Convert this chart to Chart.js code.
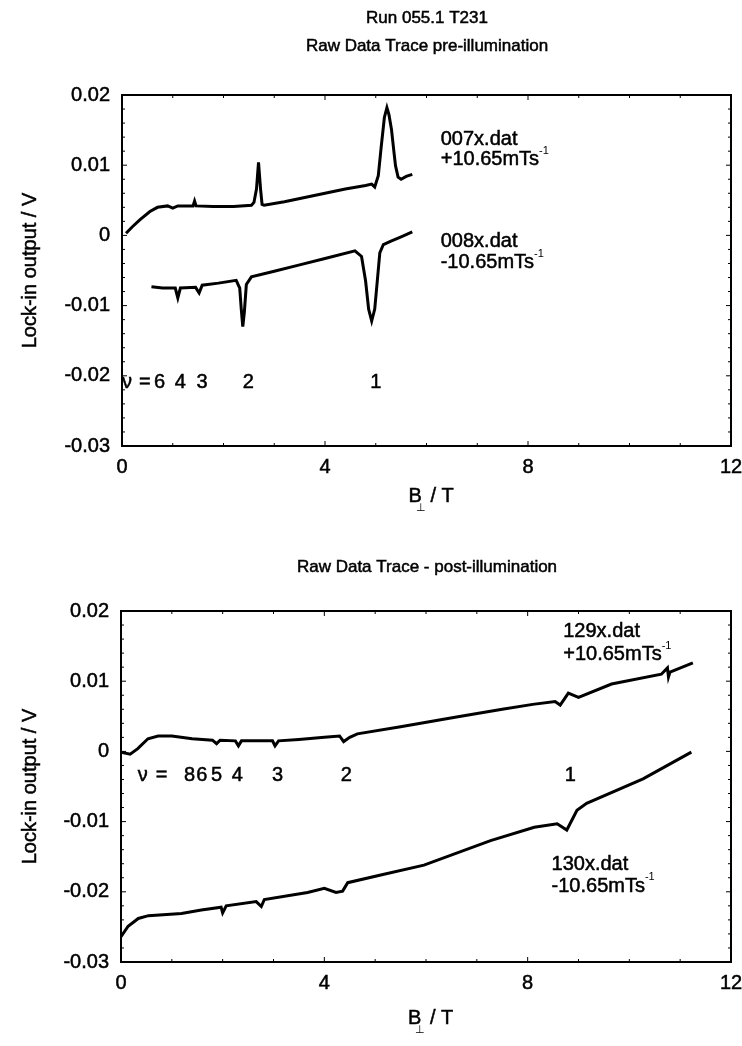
<!DOCTYPE html>
<html>
<head>
<meta charset="utf-8">
<script src="https://cdn.jsdelivr.net/npm/chart.js@4/dist/chart.umd.min.js"></script>
<style>
  body { margin: 0; background: #fff; overflow: hidden; }
  .wrap { position: absolute; left: 0; width: 742px; height: 523px; }
</style>
</head>
<body>
<div class="wrap" style="top:0"><canvas id="preChart" width="742" height="523"></canvas></div>
<div class="wrap" style="top:523px"><canvas id="postChart" width="742" height="523"></canvas></div>
<script>
// B field (T) and lock-in output (V)
const b007 = [0.08, 0.2, 0.35, 0.55, 0.7, 0.9, 1.0, 1.1, 1.4, 1.43, 1.46, 1.8, 2.2, 2.55, 2.6, 2.65, 2.69, 2.73, 2.76, 2.8, 3.2, 3.6, 4.0, 4.4, 4.8, 4.92, 4.98, 5.05, 5.11, 5.17, 5.22, 5.26, 5.31, 5.36, 5.39, 5.44, 5.5, 5.6, 5.72];
const v007 = [0.0003, 0.0012, 0.0022, 0.0034, 0.0040, 0.0042, 0.0039, 0.0042, 0.0042, 0.0049, 0.0042, 0.0041, 0.0041, 0.0043, 0.0047, 0.0066, 0.0104, 0.0066, 0.0044, 0.0043, 0.0048, 0.0054, 0.0060, 0.0066, 0.0071, 0.0073, 0.0069, 0.0085, 0.0128, 0.0168, 0.0182, 0.0172, 0.0151, 0.0118, 0.0099, 0.0083, 0.0080, 0.0084, 0.0087];

const b008 = [0.58, 0.8, 1.05, 1.1, 1.15, 1.45, 1.52, 1.58, 1.9, 2.25, 2.32, 2.35, 2.38, 2.41, 2.45, 2.55, 3.0, 3.5, 4.0, 4.59, 4.72, 4.8, 4.86, 4.92, 4.98, 5.03, 5.08, 5.15, 5.3, 5.5, 5.72];
const v008 = [-0.0073, -0.0075, -0.0075, -0.0089, -0.0075, -0.0074, -0.0082, -0.0071, -0.0068, -0.0064, -0.0075, -0.0105, -0.0130, -0.0110, -0.0070, -0.0059, -0.0051, -0.0042, -0.0033, -0.0022, -0.0030, -0.0065, -0.0105, -0.0122, -0.0105, -0.0065, -0.0025, -0.0013, -0.0008, -0.0002, 0.0005];

const b129 = [0.0, 0.18, 0.33, 0.53, 0.73, 1.0, 1.4, 1.8, 1.88, 1.95, 2.25, 2.31, 2.37, 2.7, 2.98, 3.03, 3.1, 3.5, 4.0, 4.3, 4.38, 4.5, 4.65, 5.5, 6.6, 7.5, 8.1, 8.54, 8.64, 8.8, 9.0, 9.65, 10.63, 10.75, 10.77, 10.8, 11.25];
const v129 = [-0.0001, -0.0004, 0.0004, 0.0018, 0.0022, 0.0022, 0.0018, 0.0016, 0.0011, 0.0016, 0.0015, 0.0008, 0.0015, 0.0015, 0.0015, 0.0008, 0.0015, 0.0017, 0.0020, 0.0022, 0.0014, 0.0020, 0.0025, 0.0035, 0.0049, 0.0060, 0.0067, 0.0071, 0.0066, 0.0083, 0.0077, 0.0096, 0.0110, 0.0119, 0.0106, 0.0113, 0.0126];

const b130 = [0.0, 0.14, 0.34, 0.54, 1.19, 1.58, 1.97, 2.0, 2.07, 2.66, 2.76, 2.82, 3.67, 4.0, 4.23, 4.36, 4.46, 5.11, 5.96, 7.27, 8.13, 8.58, 8.77, 8.97, 9.16, 10.27, 11.22];
const v130 = [-0.0264, -0.0249, -0.0238, -0.0234, -0.0231, -0.0226, -0.0222, -0.0230, -0.0220, -0.0214, -0.0221, -0.0211, -0.0201, -0.0195, -0.0201, -0.0199, -0.0187, -0.0176, -0.0162, -0.0127, -0.0108, -0.0103, -0.0112, -0.0084, -0.0074, -0.0039, -0.0001];

const xTicks = [0, 4, 8, 12];
const yTicks = [0.02, 0.01, 0, -0.01, -0.02, -0.03];

// filling factor labels
const nuPre = ["ν", "=", "6", "4", "3", "2", "1"];
const nuPreX = [0.1, 0.45, 0.74, 1.15, 1.58, 2.49, 5.0];
const nuPost = ["ν", "=", "8", "6", "5", "4", "3", "2", "1"];
const nuPostX = [0.43, 0.8, 1.35, 1.59, 1.88, 2.29, 3.08, 4.43, 8.84];

const FONT = "'Liberation Sans', Arial, sans-serif";

function pts(xs, ys) {
  return xs.map((x, i) => ({ x: x, y: ys[i] }));
}

function text(ctx, t, x, y) {
  ctx.fillText(t, x, y);
  ctx.strokeText(t, x, y);
}

function paperPlugin(cfg) {
  return {
    id: "paper",
    afterDraw(chart) {
      const ctx = chart.ctx;
      const a = chart.chartArea;
      const xs = chart.scales.x, ys = chart.scales.y;
      ctx.save();
      ctx.strokeStyle = "#000";
      ctx.fillStyle = "#000";
      ctx.lineWidth = 2;
      ctx.strokeRect(a.left, a.top, a.right - a.left, a.bottom - a.top);

      // small inward ticks
      ctx.lineWidth = 1;
      ctx.beginPath();
      for (let v = 1; v < 12; v++) {
        const px = xs.getPixelForValue(v);
        const len = v % 4 === 0 ? 5 : 3;
        ctx.moveTo(px, a.bottom); ctx.lineTo(px, a.bottom - len);
        ctx.moveTo(px, a.top); ctx.lineTo(px, a.top + len);
      }
      for (let k = -14; k <= 9; k++) {
        const py = ys.getPixelForValue(k * 0.002);
        const len = k % 5 === 0 ? 5 : 3;
        ctx.moveTo(a.left, py); ctx.lineTo(a.left + len, py);
        ctx.moveTo(a.right, py); ctx.lineTo(a.right - len, py);
      }
      ctx.stroke();

      ctx.lineWidth = 0.5;
      // titles
      ctx.textAlign = "center";
      ctx.textBaseline = "middle";
      ctx.font = "17px " + FONT;
      cfg.titles.forEach((t, i) => text(ctx, t, cfg.titleX, cfg.titleY[i]));

      // y axis title
      ctx.font = "20px " + FONT;
      ctx.save();
      ctx.translate(30, (a.top + a.bottom) / 2);
      ctx.rotate(-Math.PI / 2);
      text(ctx, "Lock-in output / V", 0, 0);
      ctx.restore();

      // x axis title B⊥ / T
      const cx = (a.left + a.right) / 2 + 4;
      ctx.textAlign = "left";
      text(ctx, "B", cx - 22, cfg.xTitleY);
      ctx.font = "11px " + FONT;
      ctx.fillText("⊥", cx - 15, cfg.xTitleY + 12);
      ctx.font = "20px " + FONT;
      text(ctx, "/ T", cx, cfg.xTitleY);

      // trace labels
      cfg.notes.forEach(n => {
        const px = xs.getPixelForValue(n.x), py = ys.getPixelForValue(n.y);
        ctx.font = "20px " + FONT;
        ctx.textAlign = "left";
        text(ctx, n.text, px, py);
        if (n.sup) {
          const w = ctx.measureText(n.text).width;
          ctx.font = "11px " + FONT;
          ctx.fillText(n.sup, px + w, py - 9);
        }
      });

      // filling factors
      ctx.font = "20px " + FONT;
      ctx.textAlign = "center";
      cfg.nu.forEach((t, i) => {
        text(ctx, t, xs.getPixelForValue(cfg.nuX[i]), ys.getPixelForValue(cfg.nuY));
      });
      ctx.restore();
    }
  };
}

function makeChart(id, sets, pad, dims, cfg) {
  return new Chart(document.getElementById(id).getContext("2d"), {
    type: "line",
    data: {
      datasets: sets.map(s => ({
        data: s,
        borderColor: "#000",
        borderWidth: 3,
        pointRadius: 0,
        tension: 0,
        fill: false,
      })),
    },
    options: {
      responsive: false,
      animation: false,
      layout: { padding: { top: pad.top, right: pad.right, left: 0, bottom: 0 } },
      scales: {
        x: {
          type: "linear",
          min: 0, max: 12,
          afterFit: (s) => { s.height = dims.h; s.paddingRight = 0; s.paddingLeft = 0; },
          afterBuildTicks: (s) => { s.ticks = xTicks.map(v => ({ value: v })); },
          grid: { display: false, drawTicks: false },
          border: { display: false },
          ticks: {
            color: "#000", padding: 9, maxRotation: 0,
            font: { family: FONT, size: 20 },
            textStrokeColor: "#000", textStrokeWidth: 0.5,
          },
        },
        y: {
          min: -0.03, max: 0.02,
          afterFit: (s) => { s.width = dims.w; s.paddingTop = 0; s.paddingBottom = 0; },
          afterBuildTicks: (s) => { s.ticks = yTicks.map(v => ({ value: v })); },
          grid: { display: false, drawTicks: false },
          border: { display: false },
          ticks: {
            color: "#000", padding: 12,
            font: { family: FONT, size: 20 },
            textStrokeColor: "#000", textStrokeWidth: 0.5,
            callback: (v) => String(Number(v.toFixed(2))),
          },
        },
      },
      plugins: {
        legend: { display: false },
        title: { display: false },
        tooltip: { enabled: false },
      },
    },
    plugins: [paperPlugin(cfg)],
  });
}

makeChart("preChart", [pts(b007, v007), pts(b008, v008)],
  { top: 95, right: 11 }, { h: 77, w: 122 }, {
    titles: ["Run 055.1 T231", "Raw Data Trace pre-illumination"],
    titleX: 427, titleY: [18, 46], xTitleY: 496,
    notes: [
      { x: 6.28, y: 0.0137, text: "007x.dat" },
      { x: 6.28, y: 0.0108, text: "+10.65mTs", sup: "-1" },
      { x: 6.28, y: -0.0009, text: "008x.dat" },
      { x: 6.28, y: -0.0039, text: "-10.65mTs", sup: "-1" },
    ],
    nu: nuPre, nuX: nuPreX, nuY: -0.021,
  });

makeChart("postChart", [pts(b129, v129), pts(b130, v130)],
  { top: 88, right: 11 }, { h: 84, w: 121 }, {
    titles: ["Raw Data Trace - post-illumination"],
    titleX: 427, titleY: [44], xTitleY: 495,
    notes: [
      { x: 8.7, y: 0.0171, text: "129x.dat" },
      { x: 8.7, y: 0.0138, text: "+10.65mTs", sup: "-1" },
      { x: 8.47, y: -0.0161, text: "130x.dat" },
      { x: 8.47, y: -0.0192, text: "-10.65mTs", sup: "-1" },
    ],
    nu: nuPost, nuX: nuPostX, nuY: -0.0035,
  });
</script>
</body>
</html>
